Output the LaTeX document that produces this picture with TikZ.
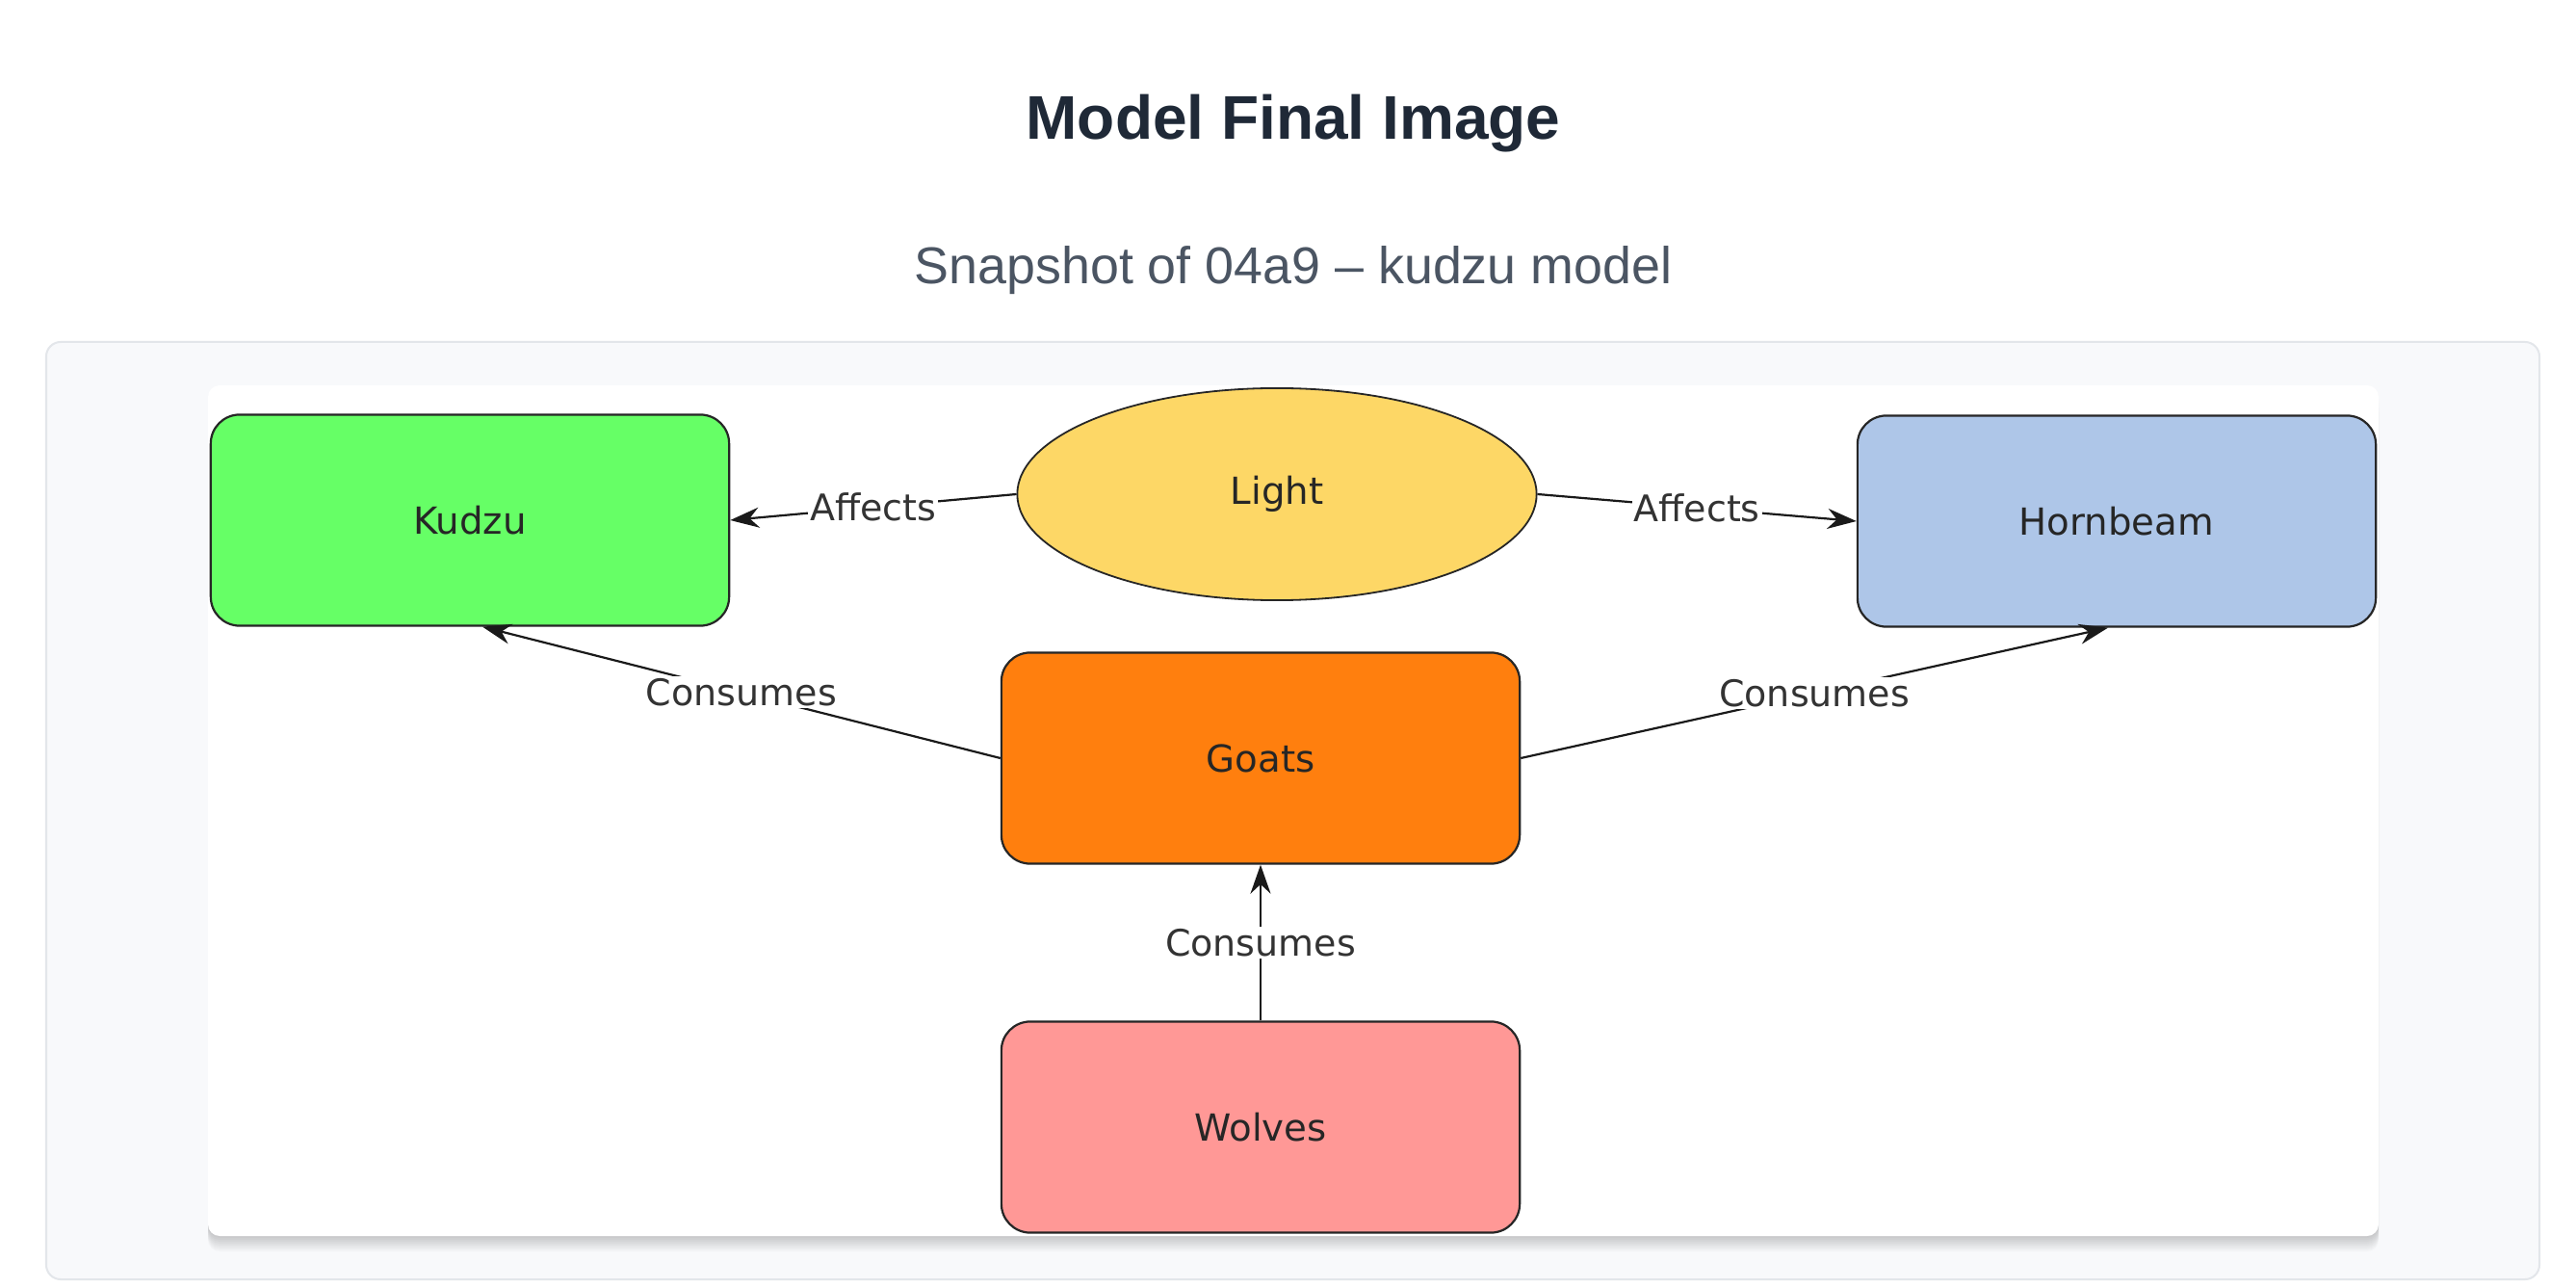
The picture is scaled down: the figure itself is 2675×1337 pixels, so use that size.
\documentclass[tikz,border=0pt]{standalone}
\usepackage{fontspec}
\setmainfont{Liberation Sans}
\newfontfamily\djv{DejaVu Sans}
\usetikzlibrary{shapes.geometric,arrows.meta}
\definecolor{titlecol}{HTML}{1F2937}
\definecolor{subcol}{HTML}{4B5563}
\definecolor{outerfill}{HTML}{F8F9FB}
\definecolor{outerborder}{HTML}{E3E6EA}
\definecolor{kudzucol}{HTML}{66FF66}
\definecolor{lightcol}{HTML}{FDD766}
\definecolor{hornbeamcol}{HTML}{AEC6E8}
\definecolor{goatscol}{HTML}{FF7F0E}
\definecolor{wolvescol}{HTML}{FF9896}
\definecolor{edgecol}{HTML}{1A1A1A}
\begin{document}
\begin{tikzpicture}[x=0.01cm,y=-0.01cm,
  box/.style={draw=black!85, line width=0.022cm, rounded corners=0.3cm,
    minimum width=5.38cm, minimum height=2.19cm,
    font=\djv\fontsize{11}{13}\selectfont, text=black!85},
  oval/.style={ellipse, draw=black!85, line width=0.018cm, fill=lightcol,
    minimum width=5.39cm, minimum height=2.2cm, inner sep=0pt,
    font=\djv\fontsize{11}{13}\selectfont, text=black!85},
  link/.style={draw=edgecol, line width=0.022cm, -{Stealth[length=0.3cm,width=0.21cm]}},
  lbl/.style={fill=white, inner sep=0.02cm, font=\djv\fontsize{10.8}{13}\selectfont, text=black!80},
  shade/.style={fill=black, opacity=0.022, rounded corners=0.12cm}
]
\useasboundingbox (0,0) rectangle (2675,1337);
\fill[white] (0,0) rectangle (2675,1337);
% panels
\draw[outerborder, fill=outerfill, rounded corners=0.15cm, line width=0.02cm] (48,355) rectangle (2637,1328);
\foreach \d in {2,4,...,16} {
  \fill[shade] (216,{400+\d}) rectangle (2470,{1283+\d});
}
\fill[white, rounded corners=0.12cm] (216,400) rectangle (2470,1283);
% titles
\node[anchor=base, font=\bfseries\fontsize{18.2}{22}\selectfont, text=titlecol] (title) at (1343,145) {Model Final Image};
\node[anchor=base, font=\fontsize{15.3}{18}\selectfont, text=subcol] (subtitle) at (1343,295) {Snapshot of 04a9 – kudzu model};
% nodes
\node[box, fill=kudzucol] (kudzu) at (488,540) {Kudzu};
\node[box, fill=hornbeamcol] (hornbeam) at (2198,541) {Hornbeam};
\node[box, fill=goatscol] (goats) at (1309,787) {Goats};
\node[box, fill=wolvescol] (wolves) at (1309,1170) {Wolves};
\node[oval] (light) at (1326,513) {Light};
% edges
\draw[link] (light.west) -- node[lbl] {Affects} (kudzu.east);
\draw[link] (light.east) -- node[lbl] {Affects} (hornbeam.west);
\draw[link] (goats.west) -- node[lbl] {Consumes} ([xshift=0.13cm]kudzu.south);
\draw[link] (goats.east) -- node[lbl] {Consumes} ([xshift=-0.09cm]hornbeam.south);
\draw[link] (wolves.north) -- node[lbl] {Consumes} (goats.south);
\end{tikzpicture}
\end{document}
